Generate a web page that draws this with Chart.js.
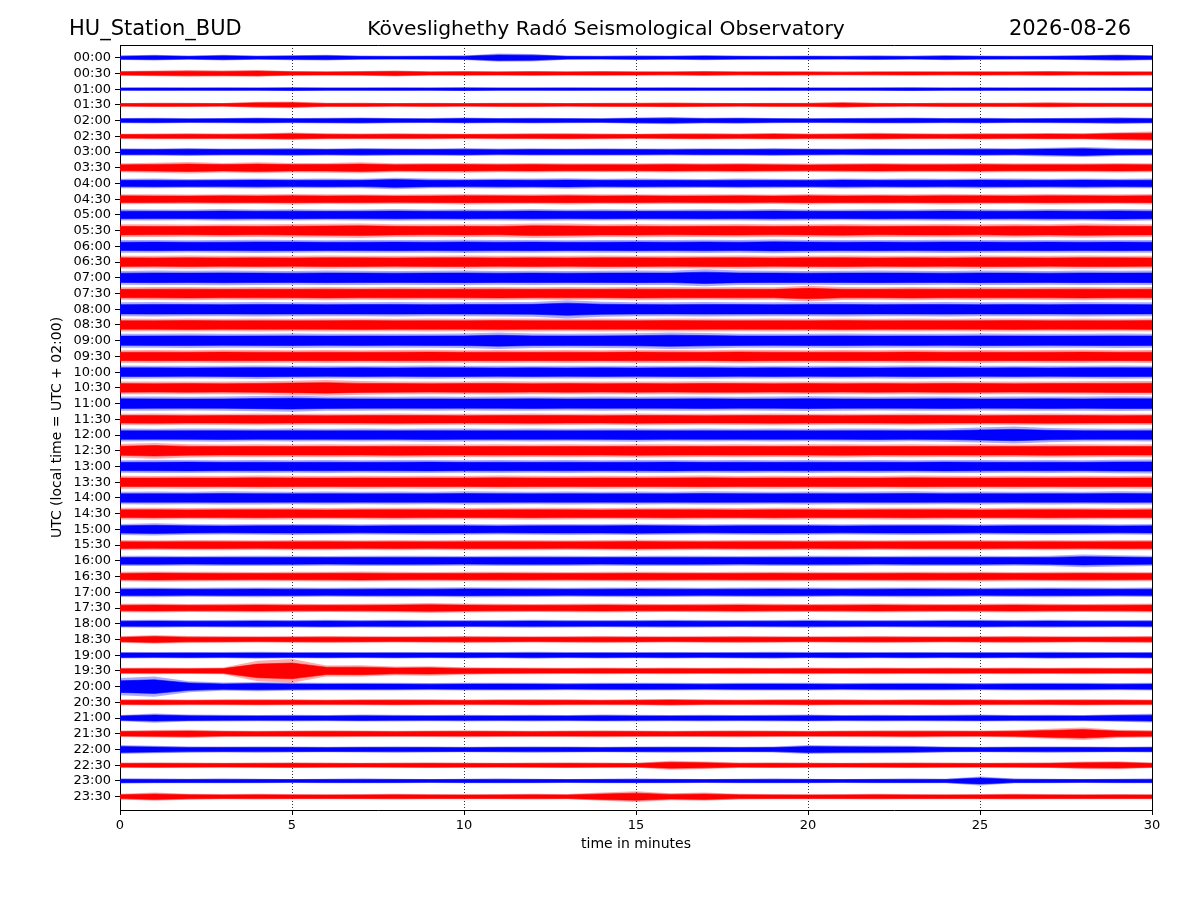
<!DOCTYPE html>
<html>
<head>
<meta charset="utf-8">
<script src="https://cdn.jsdelivr.net/npm/chart.js@4.4.0/dist/chart.umd.min.js"></script>
<style>
  html, body { margin: 0; padding: 0; background: #fff; }
  #wrap { position: relative; width: 1200px; height: 900px; }
  #c { position: absolute; left: 0; top: 0; }
  .ttl { position: absolute; font-family: "DejaVu Sans", sans-serif; font-size: 21px; line-height: 21px; color: #000; white-space: nowrap; top: 18px; }
</style>
</head>
<body>
<div id="wrap">
  <canvas id="c" width="1200" height="900"></canvas>
  <div class="ttl" id="tL" style="left:69px;"></div>
  <div class="ttl" id="tC" style="left:606px; transform:translateX(-50%); font-size:20.3px;"></div>
  <div class="ttl" id="tR" style="right:69px;"></div>
</div>
<script>
// ---- data ----
const titleLeft = "HU_Station_BUD";
const titleCenter = "Köveslighethy Radó Seismological Observatory";
const titleRight = "2026-08-26";
const xLabel = "time in minutes";
const yLabel = "UTC (local time = UTC + 02:00)";

const traceLabels = ["00:00","00:30","01:00","01:30","02:00","02:30","03:00","03:30","04:00","04:30","05:00","05:30",
  "06:00","06:30","07:00","07:30","08:00","08:30","09:00","09:30","10:00","10:30","11:00","11:30",
  "12:00","12:30","13:00","13:30","14:00","14:30","15:00","15:30","16:00","16:30","17:00","17:30",
  "18:00","18:30","19:00","19:30","20:00","20:30","21:00","21:30","22:00","22:30","23:00","23:30"];

// sample positions (minutes within each 30-minute line)
const minutes = [0,1,2,3,4,5,6,7,8,9,10,11,12,13,14,15,16,17,18,19,20,21,22,23,24,25,26,27,28,29,30];

// estimated half-width of the trace envelope at each minute (arbitrary counts)
const env0000 = [1.4,1.8,1.3,1.8,1.3,1.6,1.8,1.3,1.2,1.3,1.4,2.6,2.4,1.3,1.2,1.4,1.3,1.6,1.3,1.2,1.3,1.2,1.4,1.2,1.6,1.3,1.2,1.3,1.6,2.0,1.6];
const env0030 = [1.5,1.8,2.1,1.9,2.2,1.5,1.4,1.5,1.9,1.4,1.5,1.4,1.6,1.4,1.5,1.4,1.3,1.6,1.3,1.4,1.3,1.2,1.3,1.4,1.3,1.4,1.3,1.5,1.3,1.4,1.3];
const env0100 = [1.0,1.1,1.0,1.1,1.0,1.2,1.0,1.0,1.1,1.0,1.2,1.0,1.0,1.1,1.0,1.0,1.1,1.0,1.0,1.1,1.0,1.0,1.1,1.2,1.0,1.1,1.0,1.1,1.0,1.1,1.2];
const env0130 = [1.2,1.4,1.3,1.2,1.9,2.1,1.3,1.4,1.2,1.3,1.2,1.3,1.4,1.2,1.3,1.4,1.5,1.3,1.2,1.3,1.3,1.8,1.3,1.2,1.4,1.3,1.4,1.6,1.4,1.3,1.4];
const env0200 = [1.7,1.8,1.6,1.7,1.9,1.7,1.8,2.0,1.7,1.6,1.9,1.7,1.8,1.7,1.6,2.0,2.3,1.8,2.0,1.7,1.6,1.7,1.8,1.9,1.7,1.8,1.6,1.7,1.8,2.1,1.8];
const env0230 = [1.7,1.8,1.9,1.8,2.0,2.4,1.9,1.8,1.9,1.8,1.7,1.8,1.9,2.0,1.8,1.7,1.9,2.0,1.8,2.1,1.8,1.9,2.2,1.9,1.8,2.0,1.9,2.1,2.0,2.6,3.0];
const env0300 = [2.4,2.3,2.6,2.3,2.4,2.5,2.3,2.6,2.4,2.3,2.5,2.2,2.4,2.3,2.4,2.3,2.2,2.4,2.3,2.5,2.3,2.2,2.4,2.3,2.4,2.5,2.4,2.8,3.2,2.5,2.4];
const env0330 = [2.8,3.2,3.6,3.0,3.5,3.0,3.1,3.5,2.9,3.0,3.1,2.9,3.0,2.8,2.9,2.8,3.0,2.9,3.0,2.8,2.7,2.9,3.0,2.8,2.9,3.0,2.8,2.9,2.8,3.0,2.9];
const env0400 = [3.0,3.1,2.9,3.0,3.2,3.0,3.1,3.0,3.7,3.1,3.0,3.2,3.1,3.3,3.0,3.1,3.0,2.9,3.1,3.0,2.9,3.2,3.0,3.1,3.0,3.2,3.1,3.0,3.2,3.0,3.1];
const env0430 = [3.2,3.1,3.0,3.2,3.1,3.3,3.1,3.2,3.0,3.1,3.3,3.2,3.1,3.3,3.1,3.2,3.0,3.1,3.2,3.0,3.3,3.1,3.2,3.1,3.3,3.2,3.1,3.3,3.2,3.1,3.3];
const env0500 = [3.6,3.5,3.4,3.7,3.5,3.6,3.4,3.5,3.7,3.5,3.6,3.5,3.7,3.5,3.6,3.4,3.5,3.6,3.5,3.7,3.5,3.4,3.6,3.5,3.7,3.6,3.5,3.7,3.6,3.8,3.6];
const env0530 = [4.1,4.0,3.9,4.1,4.0,4.2,4.4,4.6,4.1,4.0,4.1,4.0,4.6,4.5,4.1,4.2,4.0,4.1,4.2,4.0,4.1,4.3,4.0,4.1,4.2,4.0,4.3,4.1,4.5,4.2,4.1];
const env0600 = [4.0,4.1,3.9,4.0,4.2,4.1,3.9,4.0,4.1,4.0,4.2,4.0,4.1,3.9,4.0,4.1,4.0,4.2,4.0,4.3,4.1,4.0,4.1,4.0,4.2,4.1,4.0,4.1,4.0,4.1,4.0];
const env0630 = [4.1,4.0,4.2,4.0,4.1,4.0,4.2,4.1,4.0,4.1,4.2,4.0,4.1,4.0,4.2,4.1,4.0,4.1,4.2,4.0,4.1,4.2,4.0,4.1,4.0,4.2,4.1,4.0,4.2,4.1,4.0];
const env0700 = [4.4,4.6,4.5,4.7,4.5,4.4,4.6,4.5,4.4,4.5,4.6,4.4,4.5,4.4,4.5,4.6,4.5,5.4,4.6,4.5,4.4,4.5,4.6,4.5,4.4,4.6,4.5,4.4,4.6,4.5,4.6];
const env0730 = [4.0,4.1,4.2,4.0,4.1,4.0,4.2,4.0,4.1,4.0,4.1,4.2,4.0,4.1,4.0,4.2,4.1,4.0,4.1,4.0,5.0,4.1,4.0,4.2,4.0,4.1,4.0,4.1,4.2,4.0,4.1];
const env0800 = [4.4,4.6,4.5,4.4,4.6,4.5,4.4,4.5,4.6,4.4,4.5,4.6,4.7,5.8,4.8,4.5,4.4,4.6,4.5,4.4,4.5,4.6,4.4,4.5,4.6,4.4,4.5,4.4,4.6,4.5,4.4];
const env0830 = [4.1,4.0,4.2,4.0,4.1,4.0,4.1,4.2,4.0,4.1,4.0,4.2,4.1,4.0,4.1,4.0,4.2,4.1,4.0,4.1,4.0,4.2,4.0,4.1,4.0,4.1,4.2,4.0,4.1,4.0,4.2];
const env0900 = [4.4,4.5,4.6,4.4,4.5,4.6,4.4,4.5,4.4,4.5,4.6,5.2,4.6,4.5,4.6,4.8,5.3,4.9,4.5,4.4,4.5,4.6,4.4,4.5,4.4,4.6,4.5,4.4,4.5,4.6,4.5];
const env0930 = [4.0,4.1,4.0,4.2,4.1,4.0,4.1,4.0,4.1,4.2,4.0,4.1,4.0,4.1,4.0,4.2,4.1,4.0,4.3,4.1,4.0,4.1,4.0,4.2,4.0,4.1,4.0,4.1,4.2,4.0,4.1];
const env1000 = [4.2,4.1,4.0,4.1,4.3,4.1,4.0,4.1,4.0,4.2,4.1,4.0,4.1,4.0,4.1,4.0,4.1,4.2,4.0,4.1,4.0,4.1,4.0,4.2,4.1,4.0,4.1,4.0,4.1,4.2,4.1];
const env1030 = [4.1,4.0,4.1,4.0,4.2,4.6,5.0,4.3,4.1,4.0,4.1,4.2,4.0,4.1,4.0,4.1,4.0,4.2,4.1,4.0,4.1,4.0,4.1,4.0,4.2,4.1,4.0,4.1,4.2,4.3,4.4];
const env1100 = [4.6,4.5,4.4,4.5,4.8,5.2,4.6,4.5,4.4,4.5,4.4,4.5,4.6,4.4,4.5,4.4,4.5,4.6,4.4,4.5,4.7,4.5,4.4,4.5,4.6,4.4,4.5,4.6,4.5,4.7,4.6];
const env1130 = [3.6,3.7,3.5,3.6,3.7,3.6,3.5,3.6,3.7,3.6,3.5,3.6,3.7,3.6,3.5,3.7,3.6,3.5,3.6,3.7,3.6,3.5,3.6,3.7,3.6,3.5,3.6,3.7,3.6,3.5,3.6];
const env1200 = [4.1,4.0,4.1,4.2,4.0,4.1,4.0,4.1,4.0,4.2,4.1,4.0,4.1,4.0,4.1,4.2,4.0,4.1,4.0,4.1,4.0,4.1,4.2,4.0,4.2,4.8,5.4,4.5,4.1,4.0,4.1];
const env1230 = [4.3,5.0,4.2,4.0,4.1,4.0,4.1,4.0,4.2,4.1,4.0,4.1,4.0,4.1,4.0,4.2,4.1,4.0,4.1,4.0,4.1,4.2,4.0,4.1,4.0,4.1,4.0,4.2,4.1,4.0,4.1];
const env1300 = [4.0,4.1,4.2,4.0,4.1,4.0,4.1,4.0,4.1,4.2,4.0,4.1,4.0,4.1,4.0,4.1,4.2,4.0,4.1,4.0,4.1,4.0,4.1,4.0,4.2,4.1,4.0,4.1,4.0,4.3,4.4];
const env1330 = [4.1,4.0,4.1,4.0,4.2,4.1,4.0,4.1,4.0,4.1,4.0,4.2,4.1,4.0,4.1,4.0,4.1,4.2,4.0,4.1,4.0,4.1,4.0,4.2,4.1,4.0,4.1,4.0,4.1,4.0,4.1];
const env1400 = [4.0,4.1,4.0,4.2,4.1,4.0,4.1,4.0,4.1,4.0,4.2,4.1,4.0,4.1,4.0,4.1,4.0,4.2,4.1,4.0,4.1,4.0,4.1,4.2,4.0,4.1,4.0,4.1,4.0,4.2,4.1];
const env1430 = [3.7,3.8,3.6,3.7,3.8,3.7,3.6,3.7,3.8,3.7,3.6,3.7,3.8,3.7,3.6,3.7,3.8,3.7,3.6,3.8,3.7,3.6,3.7,3.8,3.7,3.6,3.7,3.8,3.7,3.6,3.7];
const env1500 = [3.5,3.9,3.4,3.3,3.4,3.5,3.4,3.3,3.4,3.5,3.4,3.3,3.4,3.5,3.4,3.6,3.4,3.3,3.4,3.5,3.4,3.3,3.4,3.5,3.4,3.3,3.4,3.5,3.4,3.3,3.4];
const env1530 = [3.2,3.1,3.3,3.2,3.1,3.2,3.3,3.1,3.2,3.1,3.2,3.3,3.2,3.1,3.2,3.4,3.2,3.1,3.2,3.3,3.1,3.2,3.1,3.2,3.3,3.2,3.1,3.2,3.1,3.2,3.3];
const env1600 = [3.2,3.3,3.1,3.2,3.3,3.2,3.1,3.2,3.3,3.2,3.1,3.2,3.3,3.2,3.1,3.2,3.3,3.2,3.1,3.2,3.3,3.2,3.1,3.2,3.3,3.2,3.1,3.3,4.0,3.6,3.2];
const env1630 = [3.0,3.3,3.1,3.0,2.9,3.0,3.1,3.2,3.0,2.9,3.0,3.1,3.0,2.9,3.0,3.1,3.0,2.9,3.0,3.1,3.0,2.9,3.0,3.1,3.0,3.1,2.9,3.0,3.1,3.0,2.9];
const env1700 = [3.0,3.1,2.9,3.0,3.1,3.0,2.9,3.0,3.1,3.0,3.2,3.1,3.0,2.9,3.0,3.1,3.0,2.9,3.0,3.1,3.0,2.9,3.0,3.1,3.0,2.9,3.0,3.1,3.0,2.9,3.0];
const env1730 = [2.7,2.8,2.6,2.7,2.8,2.7,2.6,2.7,2.8,3.2,2.8,2.7,2.6,2.7,2.8,2.7,2.6,2.7,2.8,2.7,2.6,2.7,2.8,2.7,2.6,2.7,2.8,2.7,2.6,2.7,2.8];
const env1800 = [2.4,2.5,2.3,2.4,2.5,2.4,2.6,2.4,2.5,2.4,2.3,2.4,2.5,2.4,2.3,2.4,2.5,2.4,2.3,2.4,2.5,2.4,2.3,2.4,2.5,2.6,2.4,2.5,2.4,2.3,2.4];
const env1830 = [2.1,2.8,2.2,2.1,2.0,2.1,2.2,2.1,2.0,2.1,2.2,2.1,2.0,2.1,2.2,2.1,2.0,2.1,2.2,2.1,2.0,2.1,2.2,2.1,2.0,2.1,2.2,2.1,2.0,2.1,2.2];
const env1900 = [2.1,2.0,2.1,2.0,2.2,2.0,2.1,2.0,2.1,2.0,2.1,2.0,2.2,2.0,2.1,2.0,2.1,2.0,2.1,2.2,2.0,2.1,2.0,2.1,2.0,2.1,2.0,2.2,2.1,2.0,2.1];
const env1930 = [2.0,2.1,2.0,2.2,6.5,7.5,3.5,3.6,2.8,3.0,2.4,2.2,2.1,2.0,2.1,2.0,2.1,2.0,2.1,2.0,2.1,2.0,2.1,2.0,2.1,2.0,2.1,2.0,2.1,2.0,2.1];
const env2000 = [5.5,6.5,3.5,2.6,3.0,2.6,2.4,2.5,2.4,2.3,2.4,2.5,2.4,2.3,2.4,2.5,2.4,2.3,2.4,2.5,2.4,2.3,2.4,2.5,2.4,2.3,2.4,2.5,2.4,2.3,2.4];
const env2030 = [1.9,2.0,1.8,1.9,2.0,1.9,1.8,1.9,2.0,1.9,1.8,1.9,2.0,1.9,1.8,1.9,2.2,1.9,1.8,1.9,2.0,1.9,1.8,1.9,2.0,1.9,1.8,1.9,2.0,1.9,1.8];
const env2100 = [2.0,2.9,2.2,2.1,2.0,2.1,2.0,2.2,2.1,2.0,2.1,2.0,2.1,2.0,2.2,2.1,2.0,2.1,2.0,2.1,2.2,2.0,2.1,2.0,2.1,2.2,2.0,2.1,2.0,2.4,2.8];
const env2130 = [2.1,2.4,2.6,2.1,2.0,2.1,2.2,2.1,2.0,2.1,2.2,2.1,2.0,2.1,2.2,2.1,2.0,2.1,2.2,2.1,2.0,2.1,2.2,2.3,2.2,2.1,2.4,3.2,4.0,2.6,2.3];
const env2200 = [2.8,2.4,2.0,1.9,2.0,1.9,1.8,1.9,2.0,1.9,1.8,1.9,2.0,1.9,1.8,1.9,2.0,1.9,1.8,1.9,2.8,2.6,2.5,2.4,1.9,1.8,1.9,2.0,1.9,1.8,1.9];
const env2230 = [1.7,1.8,1.7,1.6,1.7,1.8,1.7,1.6,1.7,1.8,1.7,1.6,1.7,1.8,1.7,1.6,2.8,2.4,1.7,1.8,1.7,1.6,1.7,1.8,1.7,1.6,1.7,1.8,2.4,2.6,1.8];
const env2300 = [1.6,1.5,1.4,1.5,1.4,1.3,1.4,1.5,1.4,1.3,1.4,1.5,1.4,1.3,1.4,1.5,1.4,1.3,1.4,1.5,1.4,1.3,1.4,1.5,1.4,2.8,1.5,1.4,1.3,1.4,1.5];
const env2330 = [1.8,2.6,1.9,1.7,1.8,1.7,1.6,1.7,1.8,1.7,1.6,1.7,1.8,1.7,2.6,3.4,2.2,2.6,1.8,1.7,1.6,1.7,1.8,1.7,1.6,1.7,1.8,1.7,1.6,1.7,1.6];

const envelopes = [env0000,env0030,env0100,env0130,env0200,env0230,env0300,env0330,env0400,env0430,env0500,env0530,
  env0600,env0630,env0700,env0730,env0800,env0830,env0900,env0930,env1000,env1030,env1100,env1130,
  env1200,env1230,env1300,env1330,env1400,env1430,env1500,env1530,env1600,env1630,env1700,env1730,
  env1800,env1830,env1900,env1930,env2000,env2030,env2100,env2130,env2200,env2230,env2300,env2330];

// ---- presentation ----
const COUNTS_PER_LINE = 15.0;          // envelope counts that equal one line spacing
const PEAK_FACTOR = 1.5;               // faint outer band for the peaks of the noise
const COLORS = ['#0000ff', '#ff0000'];
const FAINT = ['rgba(0,0,255,0.33)', 'rgba(255,0,0,0.33)'];
const FONT = '"DejaVu Sans", sans-serif';

document.getElementById('tL').textContent = titleLeft;
document.getElementById('tC').textContent = titleCenter;
document.getElementById('tR').textContent = titleRight;

const datasets = [];
function band(i, env, factor, line, fillCol, bw) {
  datasets.push({
    label: traceLabels[i] + ' upper',
    data: minutes.map((m, k) => ({x: m, y: i - factor * env[k] / COUNTS_PER_LINE})),
    borderColor: line, borderWidth: bw, pointRadius: 0, fill: false,
    xAxisID: 'x', yAxisID: 'y'
  });
  datasets.push({
    label: traceLabels[i] + ' lower',
    data: minutes.map((m, k) => ({x: m, y: i + factor * env[k] / COUNTS_PER_LINE})),
    borderColor: line, borderWidth: bw, pointRadius: 0,
    backgroundColor: fillCol, fill: '-1',
    xAxisID: 'x', yAxisID: 'y'
  });
}
envelopes.forEach((env, i) => {
  band(i, env, 1, COLORS[i % 2], COLORS[i % 2], 0.6);
  band(i, env, PEAK_FACTOR, 'rgba(0,0,0,0)', FAINT[i % 2], 0);
});

new Chart(document.getElementById('c'), {
  type: 'line',
  data: { datasets },
  options: {
    responsive: false,
    animation: false,
    events: [],
    layout: { padding: { left: 49, right: 48, top: 45, bottom: 47 } },
    plugins: { legend: { display: false }, tooltip: { enabled: false }, title: { display: false } },
    scales: {
      x: {
        type: 'linear', position: 'bottom', min: 0, max: 30,
        ticks: { stepSize: 5, color: '#000', font: { family: FONT, size: 13 }, padding: 3, maxRotation: 0 },
        grid: {
          color: (ctx) => (ctx.tick && (ctx.tick.value === 0 || ctx.tick.value === 30)) ? 'rgba(0,0,0,0)' : '#000',
          lineWidth: 0.8, tickColor: '#000', tickLength: 5, tickWidth: 1, tickBorderDash: []
        },
        border: { display: true, color: '#000', width: 1, dash: [1, 2] },
        title: { display: true, text: xLabel, color: '#000', font: { family: FONT, size: 14 }, padding: 0 },
        afterFit: (s) => { s.height = 43; }
      },
      y: {
        type: 'linear', position: 'left', reverse: true, min: -0.807, max: 47.846,
        afterBuildTicks: (s) => { s.ticks = traceLabels.map((_, i) => ({ value: i })); },
        ticks: { autoSkip: false, color: '#000', font: { family: FONT, size: 13 }, padding: 4,
                 callback: (v) => traceLabels[Math.round(v)] },
        grid: { drawOnChartArea: false, tickColor: '#000', tickLength: 5, tickWidth: 1 },
        border: { display: true, color: '#000', width: 1 },
        title: { display: true, text: yLabel, color: '#000', font: { family: FONT, size: 14 }, padding: 0 },
        afterFit: (s) => { s.width = 71; }
      },
      xTop: {
        type: 'linear', position: 'top', min: 0, max: 30,
        ticks: { display: false }, grid: { drawOnChartArea: false, drawTicks: false },
        border: { display: true, color: '#000', width: 1 },
        afterFit: (s) => { s.height = 0; }
      },
      yRight: {
        type: 'linear', position: 'right', min: 0, max: 1,
        ticks: { display: false }, grid: { drawOnChartArea: false, drawTicks: false },
        border: { display: true, color: '#000', width: 1 },
        afterFit: (s) => { s.width = 0; }
      }
    }
  }
});
</script>
</body>
</html>
